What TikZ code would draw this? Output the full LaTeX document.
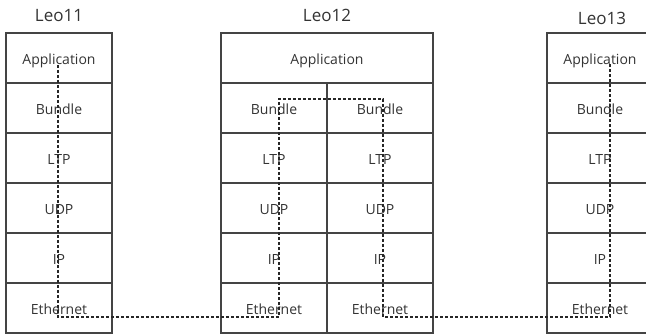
\documentclass[tikz,border=0pt]{standalone}
\usepackage{fontspec}
\setmainfont{Open Sans}
\begin{document}
\begin{tikzpicture}[x=1pt,y=-1pt,
  cell/.style={draw=boxgray, line width=1.8pt, minimum height=50pt, inner sep=0pt,
    text=textgray, font=\fontsize{14}{16}\selectfont, anchor=center,
    text depth=0pt, text height=13pt},
  half/.style={cell, minimum width=106pt},
  wide/.style={cell, minimum width=212pt},
  title/.style={text=textgray, font=\fontsize{17}{19}\selectfont, inner sep=0pt},
  flow/.style={draw=black!85, line width=1.6pt, dash pattern=on 3pt off 2pt}]
\definecolor{boxgray}{HTML}{444444}
\definecolor{textgray}{HTML}{333333}
\clip (0,0) rectangle (646,334);
\useasboundingbox (0,0) rectangle (646,334);

% titles
\node[title] (t11) at (59,16) {Leo11};
\node[title] (t12) at (327,15) {Leo12};
\node[title] (t13) at (602,18) {Leo13};

% Leo11 stack
\node[half] (a1) at (59,58)  {Application};
\node[half] (a2) at (59,108) {Bundle};
\node[half] (a3) at (59,158) {LTP};
\node[half] (a4) at (59,208) {UDP};
\node[half] (a5) at (59,258) {IP};
\node[half] (a6) at (59,308) {Ethernet};

% Leo12 stack: shared application, two lower stacks
\node[wide] (b0) at (327,58) {Application};
\node[half] (b2) at (274,108) {Bundle};
\node[half] (b3) at (274,158) {LTP};
\node[half] (b4) at (274,208) {UDP};
\node[half] (b5) at (274,258) {IP};
\node[half] (b6) at (274,308) {Ethernet};
\node[half] (c2) at (380,108) {Bundle};
\node[half] (c3) at (380,158) {LTP};
\node[half] (c4) at (380,208) {UDP};
\node[half] (c5) at (380,258) {IP};
\node[half] (c6) at (380,308) {Ethernet};

% Leo13 stack
\node[half] (d1) at (600,58)  {Application};
\node[half] (d2) at (600,108) {Bundle};
\node[half] (d3) at (600,158) {LTP};
\node[half] (d4) at (600,208) {UDP};
\node[half] (d5) at (600,258) {IP};
\node[half] (d6) at (600,308) {Ethernet};

% data path through the stacks
\coordinate (p1) at (58,65);
\coordinate (p2) at (279,317);
\coordinate (p3) at (383,99);
\coordinate (p4) at (610,317);
\coordinate (p5) at (610,63);
\draw[flow] (p1) |- (p2) -- (p2 |- p3) -- (p3) -- (p3 |- p4) -- (p4) -- (p5);
\end{tikzpicture}
\end{document}
